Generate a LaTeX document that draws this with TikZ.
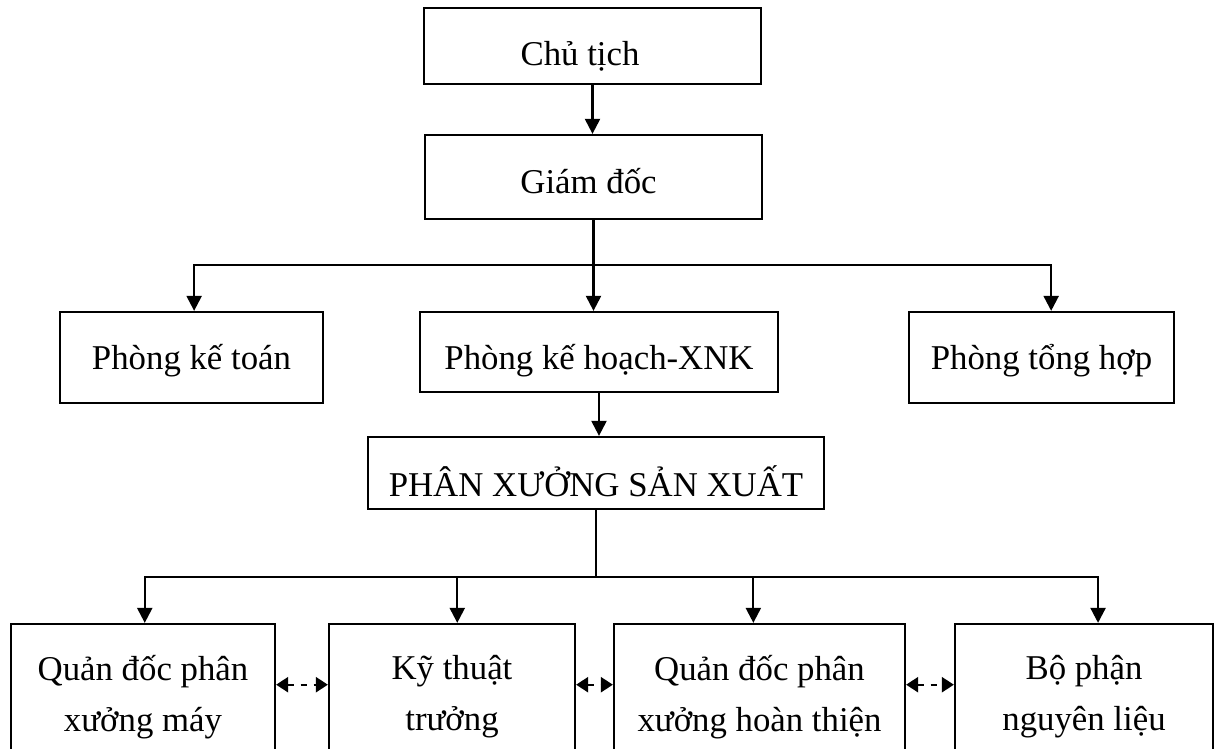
\documentclass[tikz,border=0pt]{standalone}
\usepackage{fontspec}
\setmainfont{Liberation Serif}
\usetikzlibrary{arrows.meta, positioning, calc}
\tikzset{
  every picture/.style={line width=1.3pt},
  box/.style={draw, rectangle, align=center, inner sep=2pt, font=\fontsize{19.8pt}{29pt}\selectfont},
  drop/.style={text height=#1, text depth=0pt},
  arrow/.style={-{Triangle[length=0.3cm, width=0.3cm]}, draw},
  link/.style={draw},
  twoway/.style={{Triangle[length=0.24cm, width=0.3cm]}-{Triangle[length=0.24cm, width=0.3cm]}, draw, dash pattern=on 0.13cm off 0.13cm},
}

\begin{document}
\begin{tikzpicture}[x=0.02cm, y=-0.02cm]
  \useasboundingbox (0,0) rectangle (1218,749);
  % top
  \node[box, drop=22pt, minimum width=6.74cm, minimum height=1.52cm] (chair) at (592.5,46) {Chủ tịch\hspace*{0.5cm}};
  \node[box, drop=19.3pt, minimum width=6.74cm, minimum height=1.68cm] (director) at (593.5,177) {Giám đốc\hspace*{0.2cm}};
  % row 2
  \node[box, drop=14.2pt, minimum width=5.26cm, minimum height=1.82cm] (acct) at (191.5,357.5) {Phòng kế toán};
  \node[box, drop=20.4pt, minimum width=7.16cm, minimum height=1.6cm] (plan) at (599,352) {Phòng kế hoạch-XNK};
  \node[box, drop=14.2pt, minimum width=5.3cm, minimum height=1.82cm] (general) at (1041.5,357.5) {Phòng tổng hợp};
  \node[box, drop=27pt, minimum width=9.12cm, minimum height=1.44cm] (workshop) at (596,473) {PHÂN XƯỞNG SẢN XUẤT};
  % row 3, boxes run past the lower edge
  \foreach \n/\x/\w/\t in {w1/143/5.28/{Quản đốc phân\\xưởng máy}, w2/452/4.92/{Kỹ thuật\\trưởng},
                           w3/759.5/5.82/{Quản đốc phân\\xưởng hoàn thiện}, w4/1084/5.16/{Bộ phận\\nguyên liệu}}
    \node[box, minimum width=\w cm, minimum height=2.92cm] (\n) at (\x,697) {\t};
  % connectors
  \coordinate (bus1) at ($(director.south)+(0,45)$);
  \coordinate (bus2) at ($(workshop.south)+(0,67)$);
  \draw[arrow] (chair.south) -- (chair.south |- director.north);
  \draw[link] (director.south) -- (bus1);
  \draw[arrow] (bus1) -- (bus1 |- plan.north);
  \draw[arrow] (bus1) -| ([xshift=1.5]acct.north);
  \draw[arrow] (bus1) -| ([xshift=5.5]general.north);
  \draw[arrow] (plan.south) -- (plan.south |- workshop.north);
  \draw[link] (workshop.south) -- (bus2);
  \foreach \n/\d in {w1/1, w2/3, w3/-3.5, w4/8}
    \draw[arrow] (bus2) -| ([xshift=\d]\n.north);
  \foreach \a/\b in {w1/w2, w2/w3, w3/w4}
    \draw[twoway] ([yshift=7]\a.east) -- ([yshift=7]\b.west);
\end{tikzpicture}
\end{document}
